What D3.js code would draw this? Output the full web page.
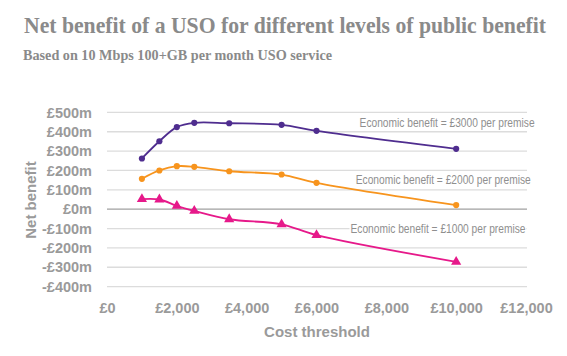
<!DOCTYPE html>
<html><head><meta charset="utf-8">
<script src="https://cdn.jsdelivr.net/npm/d3@7"></script>
<style>body{margin:0;background:#fff}svg{display:block}</style>
</head><body><svg id="c" width="567" height="356"></svg>
<script>
const costThreshold = [1000, 1500, 2000, 2500, 3500, 5000, 6000, 10000];
const benefit3000 = [262, 351, 424, 446, 444, 436, 405, 312];
const benefit2000 = [157, 200, 222, 219, 196, 179, 136, 21];
const benefit1000 = [52, 50, 17, -9, -52, -78, -134, -272];
const seriesNames = ["Economic benefit = £3000 per premise", "Economic benefit = £2000 per premise", "Economic benefit = £1000 per premise"];
const seriesColors = ["#4f2d8f", "#f7941d", "#e6198a"];
const seriesMarkers = ["circle", "circle", "triangle"];
const yTicks = [-400, -300, -200, -100, 0, 100, 200, 300, 400, 500];
const xTicks = [0, 2000, 4000, 6000, 8000, 10000, 12000];
const labelAnchor = [[9740, 425], [9630, 130], [9480, -121]];

const svg = d3.select("#c");
const x = d3.scaleLinear().domain([0, 12000]).range([107, 526]);
const y = d3.scaleLinear().domain([-400, 500]).range([286.6, 112.4]);
const grey = "#9a9a9a";

svg.append("text").attr("x", 24).attr("y", 33)
  .attr("font-family", "'Liberation Serif', 'DejaVu Serif', serif").attr("font-weight", "bold")
  .attr("font-size", 22.5).attr("fill", "#8a8a8a")
  .attr("textLength", 522).attr("lengthAdjust", "spacingAndGlyphs")
  .text("Net benefit of a USO for different levels of public benefit");
svg.append("text").attr("x", 23).attr("y", 59.5)
  .attr("font-family", "'Liberation Serif', 'DejaVu Serif', serif").attr("font-weight", "bold")
  .attr("font-size", 15.5).attr("fill", "#8a8a8a")
  .attr("textLength", 309).attr("lengthAdjust", "spacingAndGlyphs")
  .text("Based on 10 Mbps 100+GB per month USO service");

// gridlines
svg.append("g").selectAll("line").data(yTicks).join("line")
  .attr("x1", 107).attr("x2", 527)
  .attr("y1", d => y(d)).attr("y2", d => y(d))
  .attr("stroke", d => d === 0 ? "#a0a0a0" : "#dcdcdc").attr("stroke-width", 1.3);

// y axis labels
const yAxis = d3.axisLeft(y).tickValues(yTicks).tickSize(0).tickPadding(0)
  .tickFormat(d => (d < 0 ? "-£" + (-d) : "£" + d) + "m");
const gy = svg.append("g").attr("transform", "translate(92,0)").call(yAxis);
gy.select(".domain").remove();
gy.selectAll("text").attr("font-family", "'Liberation Sans', Arial, sans-serif")
  .attr("font-weight", "bold").attr("font-size", 14.5).attr("fill", grey);

const xAxis = d3.axisBottom(x).tickValues(xTicks).tickSize(0).tickPadding(0)
  .tickFormat(d => "£" + d3.format(",")(d));
const gx = svg.append("g").attr("transform", "translate(0,303)").call(xAxis);
gx.select(".domain").remove();
gx.selectAll("text").attr("font-family", "'Liberation Sans', Arial, sans-serif")
  .attr("font-weight", "bold").attr("font-size", 14.5).attr("fill", grey);

svg.append("text").attr("x", 317).attr("y", 337).attr("text-anchor", "middle")
  .attr("font-family", "'Liberation Sans', Arial, sans-serif").attr("font-weight", "bold")
  .attr("font-size", 15).attr("fill", grey).text("Cost threshold");
svg.append("text").attr("transform", "translate(36,200) rotate(-90)").attr("text-anchor", "middle")
  .attr("font-family", "'Liberation Sans', Arial, sans-serif").attr("font-weight", "bold")
  .attr("font-size", 15).attr("fill", grey).text("Net benefit");

const allSeries = [benefit3000, benefit2000, benefit1000];
const line = d3.line().x(d => x(d[0])).y(d => y(d[1])).curve(d3.curveCatmullRom.alpha(0.5));
allSeries.forEach((vals, i) => {
  const pts = costThreshold.map((c, j) => [c, vals[j]]);
  svg.append("path").datum(pts).attr("d", line).attr("fill", "none")
    .attr("stroke", seriesColors[i]).attr("stroke-width", 1.8);
  const sym = d3.symbol().type(seriesMarkers[i] === "triangle" ? d3.symbolTriangle : d3.symbolCircle)
    .size(seriesMarkers[i] === "triangle" ? 45 : 30);
  svg.append("g").selectAll("path").data(pts).join("path")
    .attr("transform", d => `translate(${x(d[0])},${y(d[1])})`)
    .attr("d", sym).attr("fill", seriesColors[i]);
});
// annotation labels with white background, drawn on top
labelAnchor.forEach((a, i) => {
  const g = svg.append("g");
  const bg = g.append("rect").attr("fill", "#fff");
  const t = g.append("text").attr("x", x(a[0])).attr("y", y(a[1]))
    .attr("text-anchor", "middle")
    .attr("font-family", "'Liberation Sans', Arial, sans-serif")
    .attr("font-size", 12.5).attr("fill", "#8f8f8f")
    .attr("textLength", 175).attr("lengthAdjust", "spacingAndGlyphs")
    .text(seriesNames[i]);
  const b = t.node().getBBox();
  bg.attr("x", b.x - 1).attr("y", b.y + 1).attr("width", b.width + 2).attr("height", b.height - 2);
});
</script></body></html>
